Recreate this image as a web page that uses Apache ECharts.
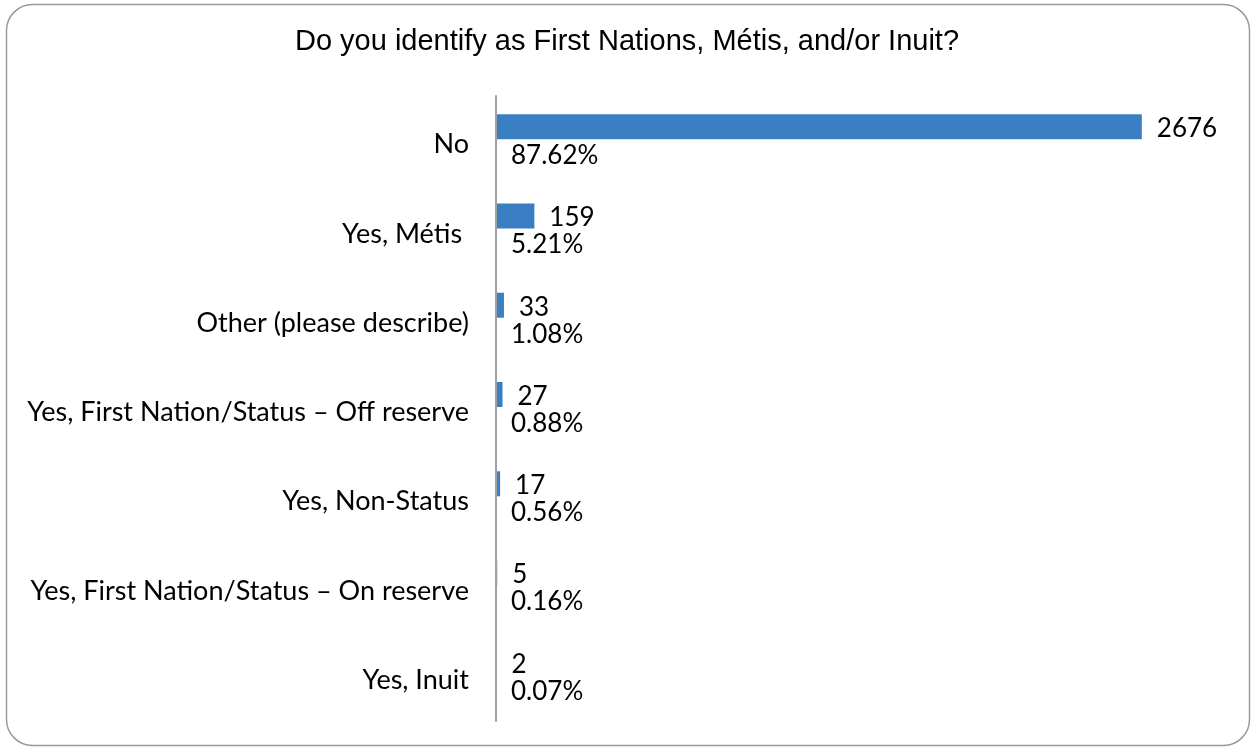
<!DOCTYPE html>
<html>
<head>
<meta charset="utf-8">
<script src="https://cdn.jsdelivr.net/npm/echarts@6/dist/echarts.min.js"></script>
<style>
  html, body { margin: 0; padding: 0; background: #ffffff; }
  #chart { width: 1254px; height: 753px; }
</style>
</head>
<body>
<div id="chart"></div>
<script>
// Survey responses: self-identification as First Nations, Métis and/or Inuit
const categories = [
  'No',
  'Yes, Métis ',
  'Other (please describe)',
  'Yes, First Nation/Status – Off reserve',
  'Yes, Non-Status',
  'Yes, First Nation/Status – On reserve',
  'Yes, Inuit'
];
const counts = [2676, 159, 33, 27, 17, 5, 2];
const percents = ['87.62%', '5.21%', '1.08%', '0.88%', '0.56%', '0.16%', '0.07%'];

const labelFont = 'Lato, "Open Sans", sans-serif';
const chart = echarts.init(document.getElementById('chart'), null, { renderer: 'canvas' });

chart.setOption({
  backgroundColor: '#ffffff',
  animation: false,
  title: {
    text: 'Do you identify as First Nations, Métis, and/or Inuit?',
    left: 'center',
    top: 22,
    textStyle: {
      fontFamily: '"Liberation Sans", Arial, sans-serif',
      fontSize: 29,
      fontWeight: 'normal',
      color: '#000000'
    }
  },
  graphic: [{
    type: 'rect',
    shape: { x: 6.5, y: 4.5, width: 1243, height: 741, r: 26 },
    style: { fill: 'none', stroke: '#9a9a9a', lineWidth: 1.5 },
    silent: true,
    z: -1
  }],
  grid: { left: 496, top: 96, width: 724, height: 625, containLabel: false },
  xAxis: {
    type: 'value',
    min: 0,
    max: 3000,
    show: false
  },
  yAxis: {
    type: 'category',
    data: categories,
    inverse: true,
    z: 5,
    axisLine: { show: true, lineStyle: { color: '#a0a0a0', width: 2 } },
    axisTick: { show: false },
    axisLabel: {
      margin: 27,
      formatter: v => '{c|' + v + '}',
      rich: {
        c: {
          padding: [8, 0, 0, 0],
          color: '#000000',
          fontFamily: labelFont,
          fontSize: 27
        }
      }
    }
  },
  series: [
    {
      name: 'Count',
      type: 'bar',
      data: counts,
      barWidth: 25,
      barGap: '12%',
      itemStyle: { color: '#3a7fc4' },
      label: {
        show: true,
        position: 'right',
        distance: 15,
        offset: [0, 2],
        color: '#000000',
        fontFamily: labelFont,
        fontSize: 26,
        formatter: p => String(counts[p.dataIndex])
      }
    },
    {
      name: 'Share',
      type: 'bar',
      data: counts,
      barWidth: 25,
      silent: true,
      itemStyle: { color: 'rgba(0,0,0,0)' },
      label: {
        show: true,
        position: 'insideLeft',
        distance: 15,
        offset: [0, 1],
        color: '#000000',
        fontFamily: labelFont,
        fontSize: 26,
        formatter: p => percents[p.dataIndex]
      }
    }
  ]
});
</script>
</body>
</html>
